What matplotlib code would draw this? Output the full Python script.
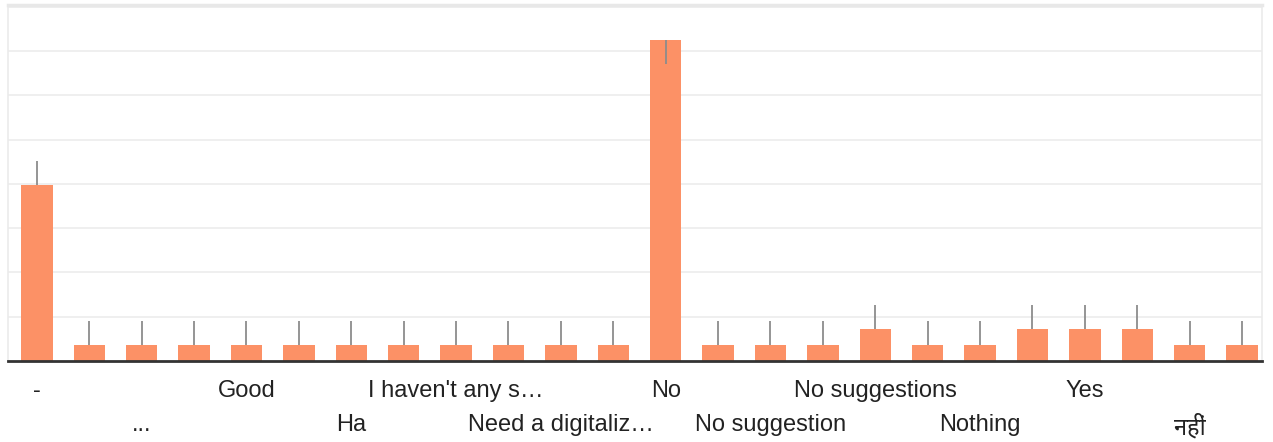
import numpy as np
import matplotlib.pyplot as plt

# answer counts (only every second label is shown on the chart)
labels = ['-', '', '...', '', 'Good', '', 'Ha', '', "I haven't any s\u2026", '',
          'Need a digitaliz\u2026', '', 'No', '', 'No suggestion', '', 'No suggestions', '',
          'Nothing', '', 'Yes', '', 'नहीं', '']
counts = [11, 1, 1, 1, 1, 1, 1, 1, 1, 1, 1, 1, 20, 1, 1, 1, 2, 1, 1, 2, 2, 2, 1, 1]
err_up = [1.5] * 24
err_up[12] = 0
err_down = [0] * 24
err_down[12] = 1.5

plt.rcParams['font.family'] = ['Liberation Sans', 'Noto Sans Devanagari', 'Noto Sans', 'DejaVu Sans']

fig = plt.figure(figsize=(12.73, 4.42), dpi=100)
ax = fig.add_axes([8 / 1273, (442 - 361) / 442, (1262 - 8) / 1273, (361 - 5) / 442])

x = np.arange(len(counts))
ax.bar(x, counts, width=0.6, color='#fc9166', zorder=2)
ax.errorbar(x, counts, yerr=[err_down, err_up], fmt='none', ecolor='#8c8c8c',
            elinewidth=1.3, capsize=0, zorder=3)

ax.set_xlim(-0.55, 23.38)
ax.set_ylim(0, 22.2)
ax.set_yticks(np.arange(1, 9) * 2.76)
ax.yaxis.grid(True, color='#ececec', lw=1.2, zorder=0)
ax.tick_params(axis='y', length=0, labelleft=False)

# alternating label rows: major ticks on row 1, minor ticks on row 2
ax.set_xticks(x[0::4])
ax.set_xticklabels([labels[i] for i in x[0::4]])
ax.set_xticks(x[2::4], minor=True)
ax.set_xticklabels([labels[i] for i in x[2::4]], minor=True)
ax.tick_params(axis='x', which='major', length=0, pad=14, labelsize=17, labelcolor='#222222')
ax.tick_params(axis='x', which='minor', length=0, pad=38, labelsize=17, labelcolor='#222222')

for s in ['left', 'right']:
    ax.spines[s].set_color('#ebebeb')
    ax.spines[s].set_linewidth(1.2)
ax.spines['top'].set_color('#e8e8e8')
ax.spines['top'].set_linewidth(2.5)
ax.spines['bottom'].set_color('#333333')
ax.spines['bottom'].set_linewidth(2)
ax.spines['bottom'].set_zorder(4)

fig.savefig('out.png', dpi=100)
